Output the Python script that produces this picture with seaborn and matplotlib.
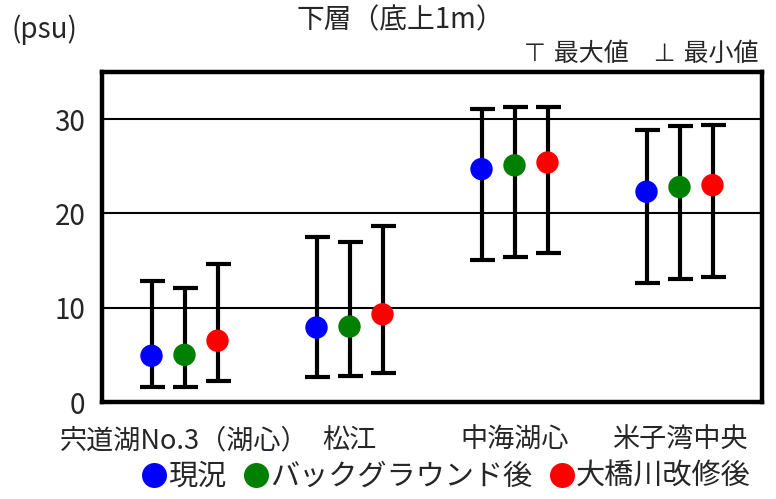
import matplotlib
matplotlib.use("Agg")
import matplotlib.pyplot as plt
import numpy as np
import pandas as pd
import seaborn as sns
from matplotlib.lines import Line2D

stations = ["宍道湖No.3（湖心）", "松江", "中海湖心", "米子湾中央"]
cases = ["現況", "バックグラウンド後", "大橋川改修後"]
case_colors = ["#0000ff", "#008000", "#ff0000"]

mean_genkyo = [4.9, 7.9, 24.7, 22.3]
mean_background = [5.0, 8.0, 25.1, 22.8]
mean_kaishu = [6.5, 9.3, 25.4, 23.0]

max_genkyo = [12.8, 17.5, 31.1, 28.8]
max_background = [12.1, 17.0, 31.3, 29.3]
max_kaishu = [14.6, 18.7, 31.3, 29.4]

min_genkyo = [1.6, 2.7, 15.1, 12.6]
min_background = [1.6, 2.8, 15.4, 13.0]
min_kaishu = [2.2, 3.1, 15.8, 13.3]

y_ticks = [0, 10, 20, 30]


def build_frame() -> pd.DataFrame:
    rows = []
    means = [mean_genkyo, mean_background, mean_kaishu]
    maxs = [max_genkyo, max_background, max_kaishu]
    mins = [min_genkyo, min_background, min_kaishu]
    for ci, case in enumerate(cases):
        for si, st in enumerate(stations):
            rows.append(
                {
                    "station": st,
                    "case": case,
                    "x": si + (ci - 1) * 0.2,
                    "mean": means[ci][si],
                    "max": maxs[ci][si],
                    "min": mins[ci][si],
                }
            )
    return pd.DataFrame(rows)


def main() -> None:
    sns.set_theme(style="white")
    plt.rcParams["font.family"] = ["Noto Sans CJK JP", "DejaVu Sans"]

    df = build_frame()

    fig = plt.figure(figsize=(7.76, 4.99), dpi=100)
    ax = fig.add_axes([102 / 776, 1 - 402 / 499, 660 / 776, 330 / 499])

    for y in y_ticks[1:]:
        ax.axhline(y, color="black", linewidth=1.5, zorder=0)

    ax.errorbar(
        df["x"],
        df["mean"],
        yerr=[df["mean"] - df["min"], df["max"] - df["mean"]],
        fmt="none",
        ecolor="black",
        elinewidth=3.0,
        capsize=9,
        capthick=3.0,
        zorder=2,
    )
    sns.scatterplot(
        data=df,
        x="x",
        y="mean",
        hue="case",
        palette=case_colors,
        s=260,
        edgecolor="none",
        legend=False,
        zorder=3,
        ax=ax,
    )

    ax.set_xlim(-0.5, len(stations) - 0.5)
    ax.set_ylim(0, 35)
    ax.set_yticks(y_ticks)
    ax.set_yticklabels([str(v) for v in y_ticks], fontsize=20)
    ax.set_xticks(np.arange(len(stations)))
    ax.set_xticklabels(stations, fontsize=19.5)
    ax.set_xticks(np.arange(len(stations) - 1) + 0.5, minor=True)
    ax.tick_params(axis="x", which="major", length=0, pad=18)
    ax.tick_params(axis="x", which="minor", direction="in", length=8, width=1.2, color="black")
    ax.tick_params(axis="y", length=0, pad=12)
    ax.set_xlabel("")
    ax.set_ylabel("")
    for sp in ax.spines.values():
        sp.set_color("black")
        sp.set_linewidth(3.2)

    fig.text(400 / 776, 1 - 20 / 499, "下層（底上1m）", ha="center", va="center", fontsize=20)
    fig.text(12 / 776, 1 - 30 / 499, "(psu)", ha="left", va="center", fontsize=20)
    fig.text(758 / 776, 1 - 54 / 499, "⊤ 最大値　⊥ 最小値", ha="right", va="center",
             fontsize=18, family=["DejaVu Sans", "Noto Sans CJK JP"])

    handles = [
        Line2D([0], [0], marker="o", linestyle="none", markersize=18,
               markerfacecolor=c, markeredgecolor="none")
        for c in case_colors
    ]
    fig.legend(
        handles,
        cases,
        loc="center",
        bbox_to_anchor=(445 / 776, 1 - 477 / 499),
        ncol=3,
        frameon=False,
        fontsize=21,
        handletextpad=0.0,
        columnspacing=0.5,
        handlelength=1.0,
    )

    fig.savefig("out.png", dpi=100)
    plt.close(fig)


if __name__ == "__main__":
    main()
